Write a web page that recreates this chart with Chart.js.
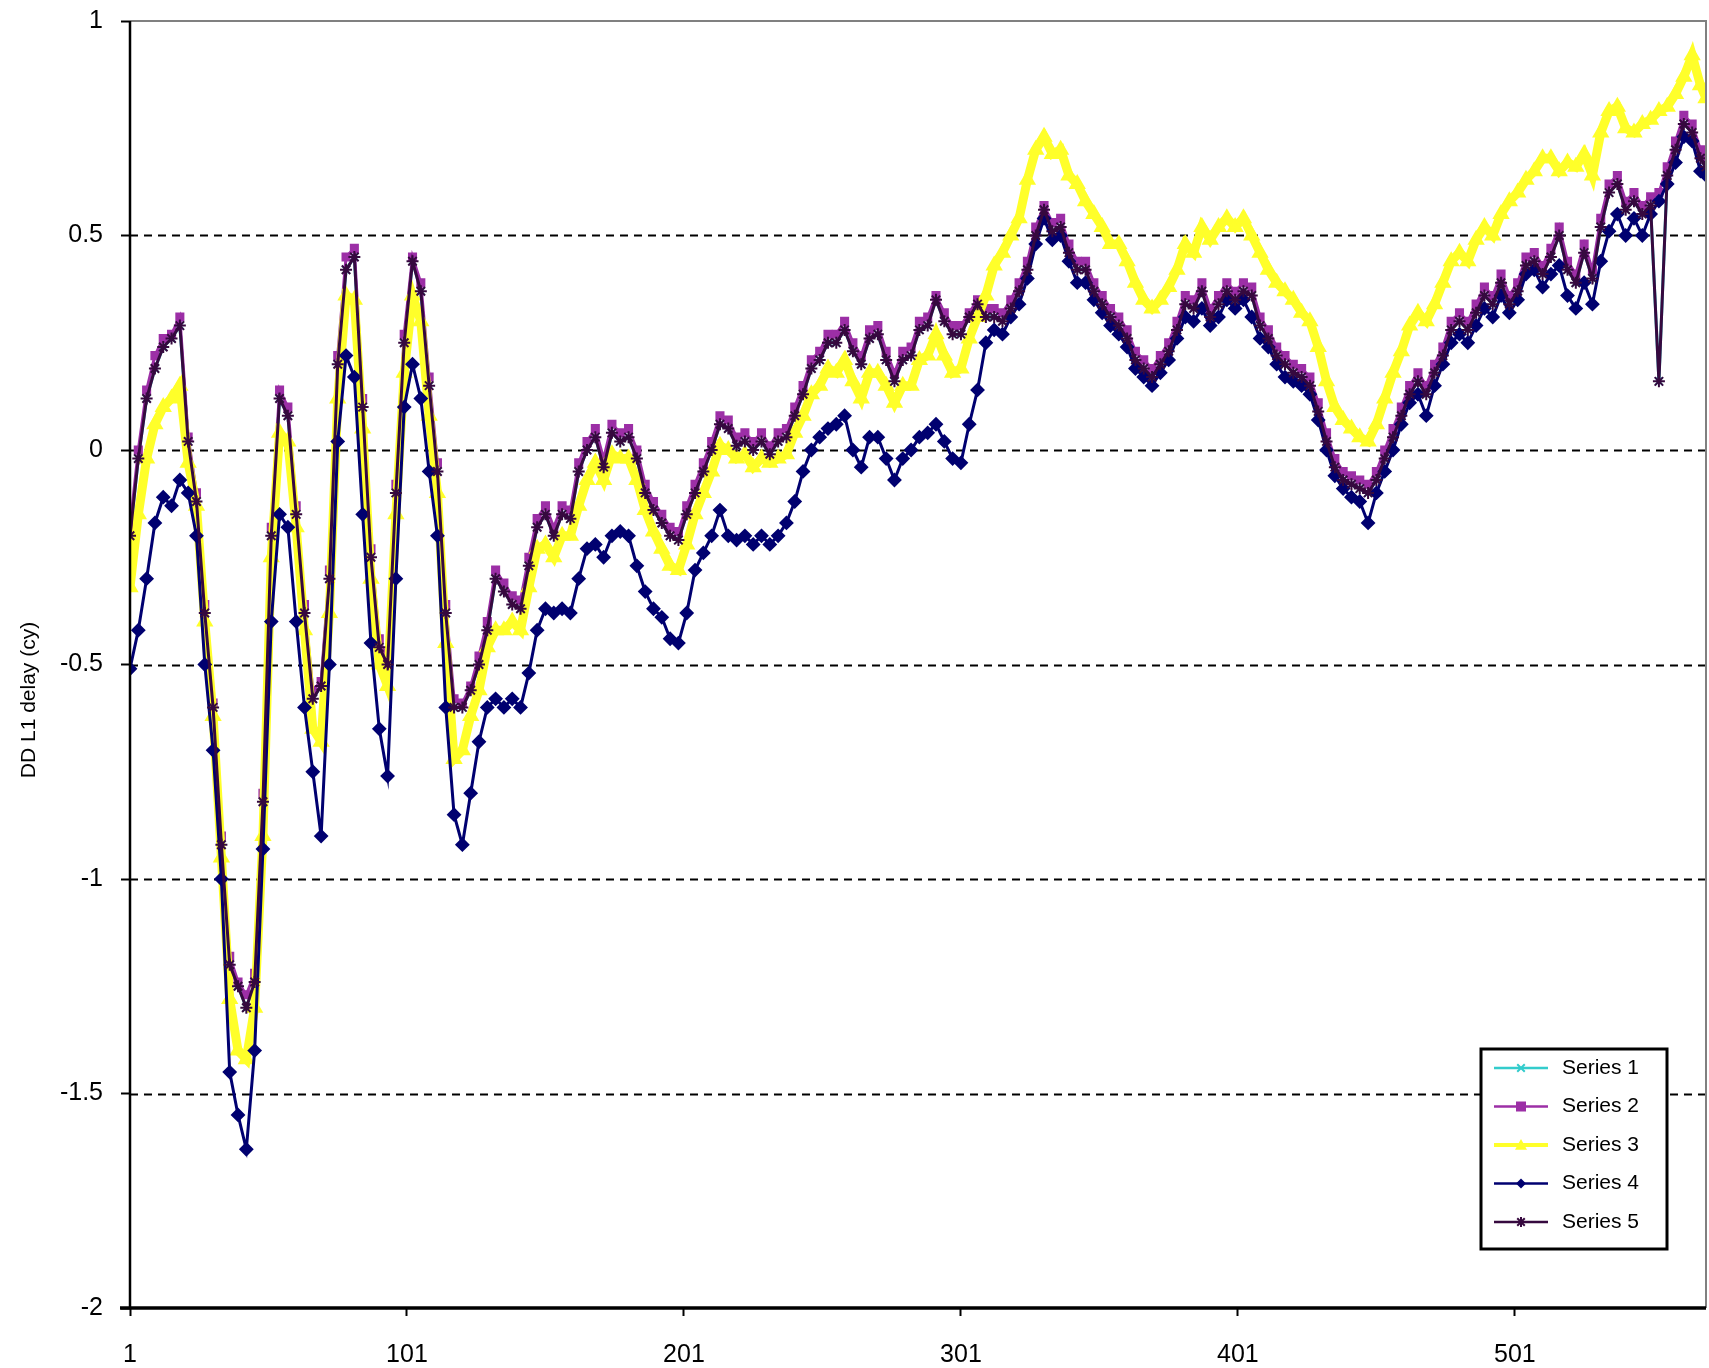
<!DOCTYPE html>
<html>
<head>
<meta charset="utf-8">
<title>DD L1 delay</title>
<script src="https://cdn.jsdelivr.net/npm/chart.js@4.4.1/dist/chart.umd.min.js"></script>
<style>
  html, body { margin: 0; padding: 0; background: #fff; }
  #wrap { width: 1709px; height: 1368px; position: relative; }
</style>
</head>
<body>
<div id="wrap"><canvas id="chart"></canvas></div>
<script>
// epoch index of every plotted sample
const epochs = [1,4,7,10,13,16,19,22,25,28,31,34,37,40,43,46,49,52,55,58,61,64,67,70,73,76,79,82,85,88,91,94,97,100,
  103,106,109,112,115,118,121,124,127,130,133,136,139,142,145,148,151,154,157,160,163,166,169,172,175,178,181,184,187,190,193,196,199,
  202,205,208,211,214,217,220,223,226,229,232,235,238,241,244,247,250,253,256,259,262,265,268,271,274,277,280,283,286,289,292,295,298,
  301,304,307,310,313,316,319,322,325,328,331,334,337,340,343,346,349,352,355,358,361,364,367,370,373,376,379,382,385,388,391,394,397,
  400,403,406,409,412,415,418,421,424,427,430,433,436,439,442,445,448,451,454,457,460,463,466,469,472,475,478,481,484,487,490,493,496,
  499,502,505,508,511,514,517,520,523,526,529,532,535,538,541,544,547,550,553,556,559,562,565,568,570];

const series1 = [-0.20,-0.02,0.12,0.19,0.24,0.26,0.29,0.02,-0.12,-0.38,-0.60,-0.92,-1.20,-1.25,-1.30,-1.24,-0.82,-0.20,0.12,0.08,-0.15,-0.38,-0.58,-0.55,-0.30,0.20,0.42,0.45,0.10,-0.25,-0.46,-0.50,-0.10,0.25,
  0.44,0.37,0.15,-0.05,-0.38,-0.60,-0.60,-0.56,-0.50,-0.42,-0.30,-0.33,-0.36,-0.37,-0.27,-0.18,-0.15,-0.20,-0.15,-0.16,-0.05,0.00,0.03,-0.04,0.04,0.02,0.03,-0.02,-0.10,-0.14,-0.17,-0.20,-0.21,
  -0.15,-0.10,-0.05,0.00,0.06,0.05,0.01,0.02,0.00,0.02,-0.01,0.02,0.03,0.08,0.13,0.19,0.21,0.25,0.25,0.28,0.23,0.20,0.26,0.27,0.21,0.16,0.21,0.22,0.28,0.29,0.35,0.30,0.27,
  0.27,0.31,0.34,0.31,0.31,0.30,0.33,0.37,0.42,0.50,0.56,0.51,0.52,0.46,0.42,0.42,0.37,0.34,0.31,0.29,0.26,0.21,0.19,0.17,0.20,0.23,0.28,0.34,0.33,0.37,0.31,0.34,0.37,
  0.35,0.37,0.36,0.29,0.26,0.22,0.20,0.18,0.17,0.15,0.09,0.02,-0.04,-0.07,-0.08,-0.09,-0.10,-0.07,-0.02,0.03,0.08,0.13,0.16,0.13,0.18,0.22,0.28,0.30,0.28,0.32,0.36,0.34,0.39,
  0.34,0.37,0.43,0.44,0.41,0.45,0.50,0.42,0.39,0.46,0.40,0.52,0.60,0.62,0.56,0.58,0.55,0.57,0.16,0.64,0.70,0.76,0.74,0.68,0.66];

const series2 = [-0.18,0.00,0.14,0.22,0.26,0.27,0.31,0.03,-0.10,-0.36,-0.59,-0.90,-1.18,-1.24,-1.27,-1.22,-0.80,-0.18,0.14,0.10,-0.13,-0.36,-0.56,-0.54,-0.28,0.22,0.45,0.47,0.12,-0.23,-0.44,-0.49,-0.08,0.27,
  0.45,0.39,0.17,-0.03,-0.36,-0.58,-0.59,-0.55,-0.48,-0.40,-0.28,-0.31,-0.34,-0.35,-0.25,-0.16,-0.13,-0.18,-0.13,-0.14,-0.03,0.02,0.05,-0.02,0.06,0.04,0.05,0.00,-0.08,-0.12,-0.15,-0.18,-0.19,
  -0.13,-0.08,-0.03,0.02,0.08,0.07,0.03,0.04,0.02,0.04,0.01,0.04,0.05,0.10,0.15,0.21,0.23,0.27,0.27,0.30,0.25,0.22,0.28,0.29,0.23,0.18,0.23,0.24,0.30,0.31,0.36,0.32,0.29,
  0.29,0.32,0.35,0.33,0.33,0.32,0.35,0.39,0.44,0.52,0.57,0.53,0.54,0.48,0.44,0.44,0.39,0.36,0.33,0.31,0.28,0.23,0.21,0.19,0.22,0.25,0.30,0.36,0.35,0.39,0.33,0.36,0.39,
  0.37,0.39,0.38,0.31,0.28,0.24,0.22,0.20,0.19,0.17,0.11,0.04,-0.02,-0.05,-0.06,-0.07,-0.08,-0.05,0.00,0.05,0.10,0.15,0.18,0.15,0.20,0.24,0.30,0.32,0.30,0.34,0.38,0.36,0.41,
  0.36,0.39,0.45,0.46,0.43,0.47,0.52,0.44,0.41,0.48,0.42,0.54,0.62,0.64,0.58,0.60,0.57,0.59,0.60,0.66,0.72,0.78,0.76,0.70,0.68];

const series3 = [-0.32,-0.15,-0.02,0.06,0.10,0.12,0.15,-0.03,-0.13,-0.40,-0.62,-0.95,-1.28,-1.40,-1.42,-1.30,-0.90,-0.25,0.04,0.02,-0.18,-0.42,-0.65,-0.68,-0.38,0.12,0.36,0.35,0.05,-0.30,-0.50,-0.55,-0.15,0.18,
  0.36,0.30,0.08,-0.10,-0.45,-0.72,-0.70,-0.62,-0.56,-0.46,-0.42,-0.42,-0.40,-0.42,-0.32,-0.23,-0.22,-0.25,-0.20,-0.20,-0.13,-0.07,-0.03,-0.07,-0.01,-0.02,-0.02,-0.07,-0.14,-0.19,-0.23,-0.27,-0.28,
  -0.22,-0.15,-0.10,-0.05,0.01,0.00,-0.02,-0.01,-0.04,-0.02,-0.03,-0.02,-0.01,0.04,0.08,0.13,0.15,0.19,0.18,0.21,0.16,0.12,0.18,0.18,0.15,0.11,0.15,0.15,0.21,0.22,0.27,0.22,0.18,
  0.19,0.26,0.31,0.36,0.43,0.46,0.50,0.54,0.63,0.70,0.73,0.69,0.70,0.64,0.62,0.58,0.55,0.52,0.48,0.48,0.44,0.39,0.35,0.33,0.35,0.38,0.42,0.48,0.46,0.52,0.49,0.52,0.54,
  0.52,0.54,0.50,0.46,0.42,0.39,0.37,0.35,0.32,0.30,0.24,0.16,0.10,0.07,0.05,0.03,0.02,0.06,0.12,0.18,0.23,0.29,0.32,0.30,0.34,0.39,0.44,0.46,0.44,0.49,0.52,0.50,0.55,
  0.58,0.60,0.63,0.65,0.68,0.68,0.65,0.67,0.66,0.69,0.64,0.74,0.79,0.80,0.75,0.74,0.76,0.77,0.79,0.80,0.83,0.87,0.92,0.85,0.82];

const series4 = [-0.51,-0.42,-0.30,-0.17,-0.11,-0.13,-0.07,-0.10,-0.20,-0.50,-0.70,-1.00,-1.45,-1.55,-1.63,-1.40,-0.93,-0.40,-0.15,-0.18,-0.40,-0.60,-0.75,-0.90,-0.50,0.02,0.22,0.17,-0.15,-0.45,-0.65,-0.76,-0.30,0.10,
  0.20,0.12,-0.05,-0.20,-0.60,-0.85,-0.92,-0.80,-0.68,-0.60,-0.58,-0.60,-0.58,-0.60,-0.52,-0.42,-0.37,-0.38,-0.37,-0.38,-0.30,-0.23,-0.22,-0.25,-0.20,-0.19,-0.20,-0.27,-0.33,-0.37,-0.39,-0.44,-0.45,
  -0.38,-0.28,-0.24,-0.20,-0.14,-0.20,-0.21,-0.20,-0.22,-0.20,-0.22,-0.20,-0.17,-0.12,-0.05,0.00,0.03,0.05,0.06,0.08,0.00,-0.04,0.03,0.03,-0.02,-0.07,-0.02,0.00,0.03,0.04,0.06,0.02,-0.02,
  -0.03,0.06,0.14,0.25,0.28,0.27,0.31,0.34,0.40,0.48,0.54,0.49,0.50,0.44,0.39,0.39,0.35,0.32,0.29,0.27,0.24,0.19,0.17,0.15,0.18,0.21,0.26,0.31,0.30,0.33,0.29,0.31,0.35,
  0.33,0.35,0.31,0.26,0.24,0.20,0.17,0.16,0.15,0.13,0.07,0.00,-0.06,-0.09,-0.11,-0.12,-0.17,-0.10,-0.05,0.00,0.06,0.11,0.13,0.08,0.15,0.20,0.25,0.27,0.25,0.29,0.33,0.31,0.36,
  0.32,0.35,0.41,0.42,0.38,0.41,0.43,0.36,0.33,0.39,0.34,0.44,0.51,0.55,0.50,0.54,0.50,0.55,0.58,0.62,0.67,0.73,0.72,0.65,0.64];

const series5 = [-0.20,-0.02,0.12,0.19,0.24,0.26,0.29,0.02,-0.12,-0.38,-0.60,-0.92,-1.20,-1.25,-1.30,-1.24,-0.82,-0.20,0.12,0.08,-0.15,-0.38,-0.58,-0.55,-0.30,0.20,0.42,0.45,0.10,-0.25,-0.46,-0.50,-0.10,0.25,
  0.44,0.37,0.15,-0.05,-0.38,-0.60,-0.60,-0.56,-0.50,-0.42,-0.30,-0.33,-0.36,-0.37,-0.27,-0.18,-0.15,-0.20,-0.15,-0.16,-0.05,0.00,0.03,-0.04,0.04,0.02,0.03,-0.02,-0.10,-0.14,-0.17,-0.20,-0.21,
  -0.15,-0.10,-0.05,0.00,0.06,0.05,0.01,0.02,0.00,0.02,-0.01,0.02,0.03,0.08,0.13,0.19,0.21,0.25,0.25,0.28,0.23,0.20,0.26,0.27,0.21,0.16,0.21,0.22,0.28,0.29,0.35,0.30,0.27,
  0.27,0.31,0.34,0.31,0.31,0.30,0.33,0.37,0.42,0.50,0.56,0.51,0.52,0.46,0.42,0.42,0.37,0.34,0.31,0.29,0.26,0.21,0.19,0.17,0.20,0.23,0.28,0.34,0.33,0.37,0.31,0.34,0.37,
  0.35,0.37,0.36,0.29,0.26,0.22,0.20,0.18,0.17,0.15,0.09,0.02,-0.04,-0.07,-0.08,-0.09,-0.10,-0.07,-0.02,0.03,0.08,0.13,0.16,0.13,0.18,0.22,0.28,0.30,0.28,0.32,0.36,0.34,0.39,
  0.34,0.37,0.43,0.44,0.41,0.45,0.50,0.42,0.39,0.46,0.40,0.52,0.60,0.62,0.56,0.58,0.55,0.57,0.16,0.64,0.70,0.76,0.74,0.68,0.66];

const seriesNames = ['Series 1', 'Series 2', 'Series 3', 'Series 4', 'Series 5'];
const xTickValues = [1, 101, 201, 301, 401, 501];
const yTickValues = [1, 0.5, 0, -0.5, -1, -1.5, -2];

const FONT = '"Liberation Sans", Arial, sans-serif';

// Excel-like look for each series: colour, marker
const looks = [
  { color: '#33cccc', style: 'crossRot', radius: 5, width: 3 },
  { color: '#9c2fa6', style: 'rect', radius: 5, width: 3 },
  { color: '#ffff2a', style: 'triangle', radius: 8, width: 9 },
  { color: '#000070', style: 'rectRot', radius: 6, width: 3 },
  { color: '#36093f', style: 'star', radius: 6, width: 3 }
];

const allSeries = [series1, series2, series3, series4, series5];

const datasets = allSeries.map((vals, k) => ({
  label: seriesNames[k],
  data: vals.map((v, j) => ({ x: epochs[j], y: v })),
  borderColor: looks[k].color,
  backgroundColor: looks[k].color,
  borderWidth: looks[k].width,
  pointStyle: looks[k].style,
  pointRadius: looks[k].radius,
  pointBorderWidth: 2,
  pointBorderColor: looks[k].color,
  pointBackgroundColor: looks[k].color,
  tension: 0,
  // series 5 on top like the spreadsheet did
  order: 5 - k
}));

// grid lines, frame, legend and axis title drawn like the original
const frame = {
  id: 'frame',
  beforeDatasetsDraw(chart) {
    const { ctx, chartArea: a, scales: { y } } = chart;
    ctx.save();
    ctx.strokeStyle = '#000';
    ctx.lineWidth = 2;
    ctx.setLineDash([8, 6]);
    yTickValues.forEach(v => {
      if (v === 1 || v === -2) return;
      const py = Math.round(y.getPixelForValue(v)) + 0.5;
      ctx.beginPath();
      ctx.moveTo(a.left, py);
      ctx.lineTo(a.right, py);
      ctx.stroke();
    });
    ctx.restore();
  },
  afterDraw(chart) {
    const { ctx, chartArea: a } = chart;
    ctx.save();
    // grey top / right frame
    ctx.strokeStyle = '#808080';
    ctx.lineWidth = 2;
    ctx.beginPath();
    ctx.moveTo(a.left, a.top);
    ctx.lineTo(a.right, a.top);
    ctx.lineTo(a.right, a.bottom);
    ctx.stroke();
    // black axes
    ctx.strokeStyle = '#000';
    ctx.lineWidth = 2.5;
    ctx.beginPath();
    ctx.moveTo(a.left, a.top);
    ctx.lineTo(a.left, a.bottom);
    ctx.stroke();
    ctx.lineWidth = 3.5;
    ctx.beginPath();
    ctx.moveTo(a.left - 10, a.bottom);
    ctx.lineTo(a.right, a.bottom);
    ctx.stroke();

    // legend box
    const bx = 1481, by = 1049, bw = 186, bh = 200;
    ctx.fillStyle = '#fff';
    ctx.fillRect(bx, by, bw, bh);
    ctx.lineWidth = 3;
    ctx.strokeStyle = '#000';
    ctx.strokeRect(bx, by, bw, bh);
    ctx.font = '21px ' + FONT;
    ctx.textBaseline = 'middle';
    ctx.textAlign = 'left';
    seriesNames.forEach((name, k) => {
      const ry = 1068 + k * 38.5;
      const lk = looks[k];
      ctx.strokeStyle = lk.color;
      ctx.fillStyle = lk.color;
      ctx.lineWidth = k === 2 ? 4 : 2.5;
      ctx.beginPath();
      ctx.moveTo(1494, ry);
      ctx.lineTo(1548, ry);
      ctx.stroke();
      drawMarker(ctx, lk.style, 1521, ry, k === 2 ? 6 : 5);
      ctx.fillStyle = '#000';
      ctx.fillText(name, 1562, ry);
    });

    // y axis title
    ctx.translate(29, 700);
    ctx.rotate(-Math.PI / 2);
    ctx.font = '21px ' + FONT;
    ctx.fillStyle = '#000';
    ctx.textAlign = 'center';
    ctx.textBaseline = 'middle';
    ctx.fillText('DD L1 delay (cy)', 0, 0);
    ctx.restore();
  }
};

function drawMarker(ctx, style, x, y, r) {
  ctx.lineWidth = 2;
  ctx.beginPath();
  if (style === 'rect') {
    ctx.fillRect(x - r, y - r, 2 * r, 2 * r);
    return;
  }
  if (style === 'rectRot') {
    ctx.moveTo(x, y - r); ctx.lineTo(x + r, y); ctx.lineTo(x, y + r); ctx.lineTo(x - r, y);
    ctx.closePath(); ctx.fill();
    return;
  }
  if (style === 'triangle') {
    ctx.moveTo(x, y - r); ctx.lineTo(x + r, y + r * 0.8); ctx.lineTo(x - r, y + r * 0.8);
    ctx.closePath(); ctx.fill();
    return;
  }
  const d = r * 0.75;
  ctx.moveTo(x - d, y - d); ctx.lineTo(x + d, y + d);
  ctx.moveTo(x + d, y - d); ctx.lineTo(x - d, y + d);
  if (style === 'star') { ctx.moveTo(x, y - r); ctx.lineTo(x, y + r); }
  ctx.stroke();
}

new Chart(document.getElementById('chart'), {
  type: 'line',
  data: { datasets: datasets },
  options: {
    responsive: true,
    maintainAspectRatio: false,
    animation: false,
    events: [],
    layout: { autoPadding: false, padding: { left: 0, top: 21, right: 3, bottom: 0 } },
    plugins: {
      legend: { display: false },
      tooltip: { enabled: false }
    },
    scales: {
      x: {
        type: 'linear',
        min: 1,
        max: 570,
        afterBuildTicks: s => { s.ticks = xTickValues.map(v => ({ value: v })); },
        afterFit: s => { s.height = 60; s.paddingLeft = 0; s.paddingRight = 0; },
        grid: { drawOnChartArea: false, drawTicks: true, tickLength: 8, tickColor: '#000', tickWidth: 2 },
        border: { display: false },
        ticks: {
          color: '#000',
          padding: 24,
          maxRotation: 0,
          autoSkip: false,
          font: { family: FONT, size: 25 },
          callback: v => String(v)
        }
      },
      y: {
        min: -2,
        max: 1,
        afterBuildTicks: s => { s.ticks = yTickValues.map(v => ({ value: v })); },
        afterFit: s => { s.width = 130; s.paddingTop = 0; s.paddingBottom = 0; },
        grid: { drawOnChartArea: false, drawTicks: true, tickLength: 9, tickColor: '#000', tickWidth: 2 },
        border: { display: false },
        ticks: {
          color: '#000',
          padding: 18,
          font: { family: FONT, size: 25 },
          callback: v => String(v)
        }
      }
    }
  },
  plugins: [frame]
});
</script>
</body>
</html>
